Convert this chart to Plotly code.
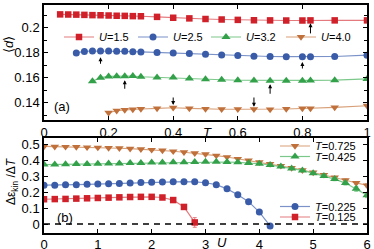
import plotly.graph_objects as go

# ---------- data: top panel (a) <d> vs T ----------
T_15 = [0.05, 0.075, 0.1, 0.125, 0.15, 0.175, 0.2, 0.225, 0.25, 0.275, 0.3, 0.35, 0.4, 0.45,
        0.5, 0.55, 0.6, 0.65, 0.7, 0.75, 0.8, 0.825, 0.9, 1.0]
d_15 = [0.2105, 0.2104, 0.2103, 0.2101, 0.2099, 0.2098, 0.2096, 0.2094, 0.2093, 0.2091, 0.2090,
        0.2085, 0.2078, 0.2073, 0.2068, 0.2064, 0.2061, 0.2058, 0.2057, 0.2056, 0.2056, 0.2057,
        0.2057, 0.2057]
T_25 = [0.1, 0.125, 0.15, 0.175, 0.2, 0.225, 0.25, 0.275, 0.3, 0.35, 0.4, 0.45,
        0.5, 0.55, 0.6, 0.65, 0.7, 0.75, 0.8, 0.825, 0.9, 1.0]
d_25 = [0.1797, 0.1809, 0.1812, 0.1812, 0.1812, 0.1810, 0.1810, 0.1807, 0.1805, 0.1800, 0.1797,
        0.1792, 0.1787, 0.1781, 0.1776, 0.1771, 0.1768, 0.1767, 0.1767, 0.1767, 0.1768, 0.1779]
T_32 = [0.15, 0.175, 0.2, 0.225, 0.25, 0.275, 0.3, 0.35, 0.4, 0.45,
        0.5, 0.55, 0.6, 0.65, 0.7, 0.75, 0.8, 0.825, 0.9, 1.0]
d_32 = [0.1570, 0.1599, 0.1609, 0.1610, 0.1610, 0.1612, 0.1606, 0.1600, 0.1600, 0.1592,
        0.1587, 0.1582, 0.1578, 0.1577, 0.1574, 0.1574, 0.1575, 0.1577, 0.1579, 0.1589]
T_40 = [0.2, 0.225, 0.25, 0.275, 0.3, 0.35, 0.4, 0.45,
        0.5, 0.55, 0.6, 0.65, 0.7, 0.75, 0.8, 0.825, 0.9, 1.0]
d_40 = [0.1318, 0.1334, 0.1340, 0.1345, 0.1348, 0.1353, 0.1358, 0.1353,
        0.1348, 0.1346, 0.1346, 0.1346, 0.1345, 0.1348, 0.1352, 0.1353, 0.1361, 0.1374]

# arrows (T, head, tail)
arrows_a = [
    (0.175, 0.1762, 0.1698),
    (0.825, 0.2035, 0.1941),
    (0.8, 0.1725, 0.1660),
    (0.25, 0.1578, 0.1498),
    (0.7, 0.1546, 0.1458),
    (0.4, 0.1380, 0.1452),
    (0.65, 0.1366, 0.1452),
]

# ---------- data: bottom panel (b) d e_kin/dT vs U ----------
U_125 = [0, 0.2, 0.4, 0.6, 0.8, 1.0, 1.2, 1.4, 1.6, 1.8, 2.0, 2.2, 2.4, 2.6, 2.8]
e_125 = [0.155, 0.156, 0.157, 0.159, 0.161, 0.163, 0.165, 0.167, 0.169, 0.170, 0.170, 0.166,
         0.150, 0.107, 0.010]
err_125 = [0.003] * 12 + [0.006, 0.012, 0.03]

U_225 = [0, 0.2, 0.4, 0.6, 0.8, 1.0, 1.2, 1.4, 1.6, 1.8, 2.0, 2.2, 2.4, 2.6, 2.8, 3.0, 3.2,
         3.4, 3.6, 3.8, 4.0, 4.2]
e_225 = [0.243, 0.243, 0.245, 0.246, 0.248, 0.250, 0.252, 0.254, 0.257, 0.259, 0.261, 0.263,
         0.264, 0.265, 0.264, 0.258, 0.246, 0.220, 0.183, 0.140, 0.075, -0.012]
err_225 = [0.003] * 20 + [0.006, 0.01]

U_425 = [0, 0.2, 0.4, 0.6, 0.8, 1.0, 1.2, 1.4, 1.6, 1.8, 2.0, 2.2, 2.4, 2.6, 2.8, 3.0, 3.2,
         3.4, 3.6, 3.8, 4.0, 4.2, 4.4, 4.6, 4.8, 5.0, 5.2, 5.4, 5.6, 5.8, 6.0]
e_425 = [0.372, 0.373, 0.374, 0.375, 0.376, 0.377, 0.378, 0.379, 0.381, 0.382, 0.384, 0.385,
         0.386, 0.387, 0.388, 0.389, 0.389, 0.388, 0.386, 0.382, 0.377, 0.369, 0.359, 0.347,
         0.335, 0.318, 0.301, 0.281, 0.256, 0.220, 0.180]
err_425 = [0.004] * 25 + [0.006, 0.008, 0.01, 0.012, 0.015, 0.015]

U_725 = U_425
e_725 = [0.485, 0.484, 0.483, 0.482, 0.480, 0.478, 0.476, 0.474, 0.471, 0.468, 0.464, 0.460,
         0.455, 0.449, 0.443, 0.437, 0.428, 0.419, 0.408, 0.398, 0.387, 0.376, 0.364, 0.351,
         0.337, 0.323, 0.308, 0.291, 0.274, 0.257, 0.242]
err_725 = [0.004] * 26 + [0.006, 0.006, 0.008, 0.008, 0.01]

RED, RED_L = "#d0202a", "#e47a7e"
BLUE, BLUE_L = "#3a5ca8", "#7a92c8"
GREEN, GREEN_L = "#33a04a", "#7cc88a"
ORANGE, ORANGE_L = "#c0703a", "#d8a078"

FONT = "Liberation Sans"

fig = go.Figure()

def add(x, y, color, lcolor, symbol, name, xa, ya, legend, size=7, err=None):
    fig.add_trace(go.Scatter(
        x=x, y=y, mode="lines+markers", name=name,
        line=dict(color=lcolor, width=1.2),
        marker=dict(color=color, symbol=symbol, size=size, line=dict(width=0)),
        error_y=dict(type="data", array=err, color=lcolor, thickness=1, width=2,
                     visible=err is not None),
        xaxis=xa, yaxis=ya, legend=legend,
    ))

add(T_15, d_15, RED, RED_L, "square", "<i>U</i>=1.5", "x", "y", "legend", 6.5)
add(T_25, d_25, BLUE, BLUE_L, "circle", "<i>U</i>=2.5", "x", "y", "legend2", 7)
add(T_32, d_32, GREEN, GREEN_L, "triangle-up", "<i>U</i>=3.2", "x", "y", "legend3", 8)
add(T_40, d_40, ORANGE, ORANGE_L, "triangle-down", "<i>U</i>=4.0", "x", "y", "legend4", 7.5)

add(U_725, e_725, ORANGE, ORANGE_L, "triangle-down", "<i>T</i>=0.725", "x2", "y2", "legend5", 7.5, err_725)
add(U_425, e_425, GREEN, GREEN_L, "triangle-up", "<i>T</i>=0.425", "x2", "y2", "legend6", 8, err_425)
add(U_225, e_225, BLUE, BLUE_L, "circle", "<i>T</i>=0.225", "x2", "y2", "legend7", 7, err_225)
add(U_125, e_125, RED, RED_L, "square", "<i>T</i>=0.125", "x2", "y2", "legend8", 6.5, err_125)

fig.add_trace(go.Scatter(x=[0, 6], y=[0, 0], mode="lines", showlegend=False,
                         line=dict(color="black", width=1.5, dash="6px,5px"),
                         xaxis="x2", yaxis="y2", hoverinfo="skip"))

axis_common = dict(showline=True, linecolor="black", linewidth=1.5, mirror="ticks",
                   ticks="inside", ticklen=4, tickwidth=1, tickcolor="black",
                   showgrid=False, zeroline=False,
                   tickfont=dict(family=FONT, size=13, color="black"))

fig.update_layout(
    width=374, height=249,
    margin=dict(l=44, r=7, t=5, b=16, autoexpand=False),
    paper_bgcolor="white", plot_bgcolor="white",
    font=dict(family=FONT, size=12, color="black"),
    xaxis=dict(range=[0, 1], anchor="y",
               tickvals=[0, 0.2, 0.4, 0.6, 0.8, 1], ticktext=["0", "0.2", "0.4", "0.6", "0.8", "1"],
               **axis_common),
    yaxis=dict(range=[0.126, 0.218], domain=[0.4956, 1], anchor="x",
               tickvals=[0.14, 0.16, 0.18, 0.2], ticktext=["0.14", "0.16", "0.18", "0.2"],
               minor=dict(dtick=0.01, tick0=0.13, ticks="inside", ticklen=3, tickcolor="black"),
               **axis_common),
    xaxis2=dict(range=[0, 6], dtick=1, tick0=0, anchor="y2", ticklabelstandoff=-1,
                **axis_common),
    yaxis2=dict(range=[-0.056, 0.538], domain=[0, 0.4167], anchor="x2",
                tickvals=[0, 0.1, 0.2, 0.3, 0.4, 0.5], ticktext=["0", "0.1", "0.2", "0.3", "0.4", "0.5"],
                **axis_common),
    showlegend=True,
)

def leg(xpx, ypx):
    return dict(x=(xpx - 44) / 323, y=(233 - ypx) / 228, xanchor="left", yanchor="middle",
                bgcolor="rgba(0,0,0,0)", borderwidth=0, font=dict(family=FONT, size=11),
                orientation="v", itemwidth=30, tracegroupgap=0)

fig.update_layout(
    legend=leg(59, 37), legend2=leg(133, 37), legend3=leg(206, 37), legend4=leg(281, 37),
    legend5=leg(275, 146), legend6=leg(275, 156.5), legend7=leg(275, 206.5), legend8=leg(275, 217),
)

for T, head, tail in arrows_a:
    fig.add_annotation(x=T, y=head, ax=T, ay=tail, xref="x", yref="y", axref="x", ayref="y",
                       text="", showarrow=True, arrowhead=2, arrowsize=0.8, arrowwidth=1,
                       arrowcolor="black", standoff=0, startstandoff=0)

def ann(text, xpx, ypx, size=13, angle=0):
    fig.add_annotation(text=text, x=(xpx - 44) / 323, y=(233 - ypx) / 228, xref="paper",
                       yref="paper", showarrow=False, textangle=angle,
                       font=dict(family=FONT, size=size, color="black"),
                       xanchor="center", yanchor="middle")

ann("(a)", 62, 107)
ann("(b)", 65, 217)
ann("<i>T</i>", 207, 132)
ann("<i>U</i>", 222, 242)
ann("⟨<i>d</i>⟩", 8, 45, 13, -90)
ann("Δε<sub>kin</sub> /Δ<i>T</i>", 12, 181, 12, -90)

fig.write_html("out.html", config={"displayModeBar": False},
               post_script="document.body.style.margin='0';document.body.style.overflow='hidden';")
